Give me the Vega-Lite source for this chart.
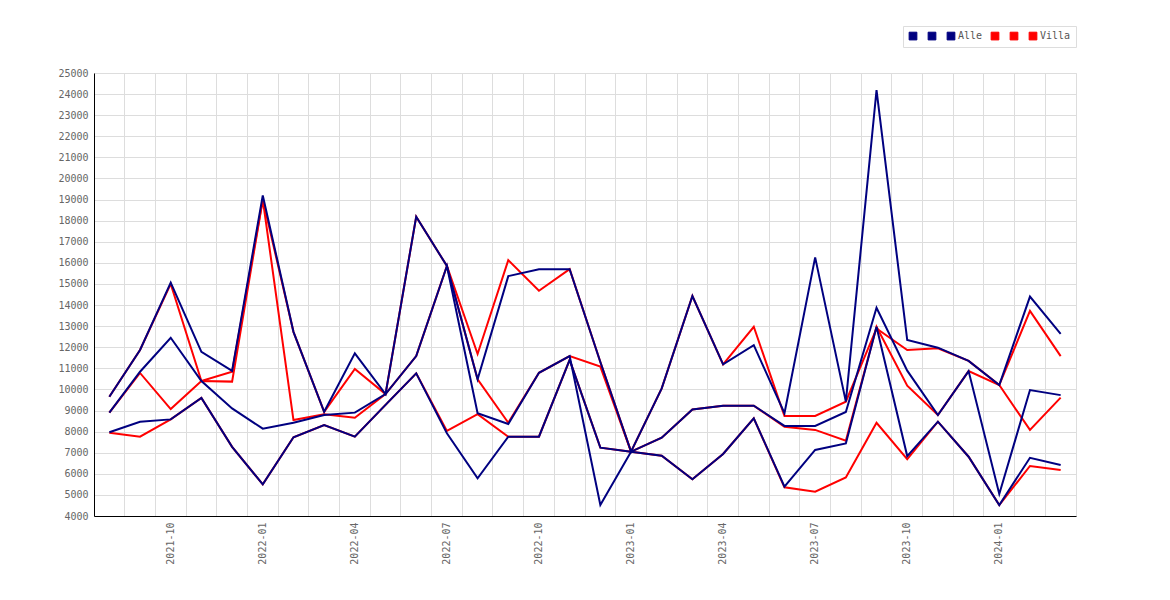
{
  "$schema": "https://vega.github.io/schema/vega-lite/v6.json",
  "autosize": "none",
  "width": 982,
  "height": 443,
  "padding": {"left": 94, "top": 73, "right": 94, "bottom": 84},
  "background": "white",
  "config": {
    "view": {"stroke": "#dddddd"},
    "font": "DejaVu Sans Mono",
    "axis": {
      "labelFont": "DejaVu Sans Mono",
      "labelFontSize": 10,
      "labelColor": "#666666",
      "grid": true,
      "gridColor": "#dddddd",
      "gridWidth": 1,
      "domainColor": "#000000",
      "domainWidth": 1,
      "ticks": false,
      "title": null
    }
  },
  "data": {
    "values": [
      {"month": "2021-08", "Alle 1": 9650, "Alle 2": 8900, "Alle": 7970, "Villa 1": 9650, "Villa 2": 8900, "Villa": 7950},
      {"month": "2021-09", "Alle 1": 11870, "Alle 2": 10840, "Alle": 8470, "Villa 1": 11870, "Villa 2": 10780, "Villa": 7760},
      {"month": "2021-10", "Alle 1": 15060, "Alle 2": 12450, "Alle": 8580, "Villa 1": 15000, "Villa 2": 9070, "Villa": 8580},
      {"month": "2021-11", "Alle 1": 11780, "Alle 2": 10400, "Alle": 9600, "Villa 1": 10400, "Villa 2": 10400, "Villa": 9600},
      {"month": "2021-12", "Alle 1": 10880, "Alle 2": 9100, "Alle": 7280, "Villa 1": 10840, "Villa 2": 10370, "Villa": 7280},
      {"month": "2022-01", "Alle 1": 19200, "Alle 2": 8140, "Alle": 5500, "Villa 1": 19000, "Villa 2": 19000, "Villa": 5500},
      {"month": "2022-02", "Alle 1": 12730, "Alle 2": 8420, "Alle": 7730, "Villa 1": 12730, "Villa 2": 8550, "Villa": 7730},
      {"month": "2022-03", "Alle 1": 8940, "Alle 2": 8790, "Alle": 8310, "Villa 1": 8940, "Villa 2": 8820, "Villa": 8310},
      {"month": "2022-04", "Alle 1": 11710, "Alle 2": 8900, "Alle": 7760, "Villa 1": 10970, "Villa 2": 8660, "Villa": 7760},
      {"month": "2022-05", "Alle 1": 9780, "Alle 2": 9780, "Alle": 9270, "Villa 1": 9780, "Villa 2": 9780, "Villa": 9270},
      {"month": "2022-06", "Alle 1": 18190, "Alle 2": 11580, "Alle": 10760, "Villa 1": 18190, "Villa 2": 11580, "Villa": 10760},
      {"month": "2022-07", "Alle 1": 15850, "Alle 2": 15850, "Alle": 7920, "Villa 1": 15850, "Villa 2": 15850, "Villa": 8030},
      {"month": "2022-08", "Alle 1": 10480, "Alle 2": 8870, "Alle": 5790, "Villa 1": 11680, "Villa 2": 10480, "Villa": 8830},
      {"month": "2022-09", "Alle 1": 15370, "Alle 2": 8360, "Alle": 7760, "Villa 1": 16130, "Villa 2": 8420, "Villa": 7760},
      {"month": "2022-10", "Alle 1": 15700, "Alle 2": 10790, "Alle": 7760, "Villa 1": 14680, "Villa 2": 10790, "Villa": 7760},
      {"month": "2022-11", "Alle 1": 15700, "Alle 2": 11580, "Alle": 11400, "Villa 1": 15700, "Villa 2": 11580, "Villa": 11400},
      {"month": "2022-12", "Alle 1": 11300, "Alle 2": 4520, "Alle": 7240, "Villa 1": 11300, "Villa 2": 11080, "Villa": 7240},
      {"month": "2023-01", "Alle 1": 7050, "Alle 2": 7050, "Alle": 7050, "Villa 1": 7050, "Villa 2": 7050, "Villa": 7050},
      {"month": "2023-02", "Alle 1": 10050, "Alle 2": 7710, "Alle": 6860, "Villa 1": 10050, "Villa 2": 7710, "Villa": 6860},
      {"month": "2023-03", "Alle 1": 14430, "Alle 2": 9050, "Alle": 5740, "Villa 1": 14430, "Villa 2": 9050, "Villa": 5740},
      {"month": "2023-04", "Alle 1": 11190, "Alle 2": 9230, "Alle": 6940, "Villa 1": 11190, "Villa 2": 9230, "Villa": 6940},
      {"month": "2023-05", "Alle 1": 12100, "Alle 2": 9230, "Alle": 8630, "Villa 1": 12970, "Villa 2": 9230, "Villa": 8630},
      {"month": "2023-06", "Alle 1": 8870, "Alle 2": 8270, "Alle": 5390, "Villa 1": 8740, "Villa 2": 8230, "Villa": 5360},
      {"month": "2023-07", "Alle 1": 16260, "Alle 2": 8270, "Alle": 7130, "Villa 1": 8740, "Villa 2": 8080, "Villa": 5150},
      {"month": "2023-08", "Alle 1": 9420, "Alle 2": 8930, "Alle": 7440, "Villa 1": 9420, "Villa 2": 7570, "Villa": 5830},
      {"month": "2023-09", "Alle 1": 24190, "Alle 2": 13870, "Alle": 12970, "Villa 1": 12890, "Villa 2": 12970, "Villa": 8420},
      {"month": "2023-10", "Alle 1": 12340, "Alle 2": 10890, "Alle": 6840, "Villa 1": 11870, "Villa 2": 10180, "Villa": 6690},
      {"month": "2023-11", "Alle 1": 11980, "Alle 2": 8790, "Alle": 8470, "Villa 1": 11950, "Villa 2": 8790, "Villa": 8470},
      {"month": "2023-12", "Alle 1": 11350, "Alle 2": 10870, "Alle": 6810, "Villa 1": 11350, "Villa 2": 10870, "Villa": 6810},
      {"month": "2024-01", "Alle 1": 10210, "Alle 2": 5040, "Alle": 4520, "Villa 1": 10210, "Villa 2": 10210, "Villa": 4520},
      {"month": "2024-02", "Alle 1": 14400, "Alle 2": 9970, "Alle": 6760, "Villa 1": 13720, "Villa 2": 8080, "Villa": 6370},
      {"month": "2024-03", "Alle 1": 12630, "Alle 2": 9730, "Alle": 6420, "Villa 1": 11580, "Villa 2": 9610, "Villa": 6180}
    ]
  },
  "transform": [
    {"fold": ["Alle 1", "Alle 2", "Alle", "Villa 1", "Villa 2", "Villa"], "as": ["serie", "verdi"]}
  ],
  "encoding": {
    "x": {
      "field": "month",
      "type": "ordinal",
      "bandPosition": 0.5,
      "scale": {"type": "band", "paddingInner": 0, "paddingOuter": 0},
      "axis": {
        "grid": true,
        "bandPosition": 0,
        "labelAngle": -90,
        "labelPadding": 6,
        "labelOverlap": false,
        "labelExpr": "indexof(['01','04','07','10'], substring(datum.value, 5, 7)) >= 0 ? datum.value : ''"
      }
    },
    "y": {
      "field": "verdi",
      "type": "quantitative",
      "scale": {"domain": [4000, 25000], "nice": false, "zero": false},
      "axis": {
        "values": [4000, 5000, 6000, 7000, 8000, 9000, 10000, 11000, 12000, 13000, 14000, 15000, 16000, 17000, 18000, 19000, 20000, 21000, 22000, 23000, 24000, 25000],
        "format": "d",
        "labelPadding": 6
      }
    },
    "color": {
      "field": "serie",
      "type": "nominal",
      "scale": {
        "domain": ["Alle 1", "Alle 2", "Alle", "Villa 1", "Villa 2", "Villa"],
        "range": ["#000080", "#000080", "#000080", "#ff0000", "#ff0000", "#ff0000"]
      },
      "legend": {
        "title": null,
        "orient": "none",
        "direction": "horizontal",
        "legendX": 809,
        "legendY": -47,
        "padding": 5,
        "strokeColor": "#dddddd",
        "fillColor": "#ffffff",
        "symbolType": "square",
        "symbolSize": 60,
        "symbolStrokeWidth": 1,
        "labelFont": "DejaVu Sans Mono",
        "labelFontSize": 10,
        "labelColor": "#555555",
        "labelOffset": 2,
        "columnPadding": 6,
        "labelExpr": "indexof(datum.label, ' ') < 0 ? datum.label : ' '",
        "encode": {
          "symbols": {
            "update": {
              "fill": {"scale": "color", "field": "value"},
              "stroke": {"value": "#666666"},
              "opacity": {"value": 1}
            }
          }
        }
      }
    }
  },
  "layer": [
    {
      "transform": [{"filter": "indexof(datum.serie, 'Villa') == 0"}],
      "mark": {"type": "line", "strokeWidth": 2}
    },
    {
      "transform": [{"filter": "indexof(datum.serie, 'Alle') == 0"}],
      "mark": {"type": "line", "strokeWidth": 2}
    }
  ]
}
